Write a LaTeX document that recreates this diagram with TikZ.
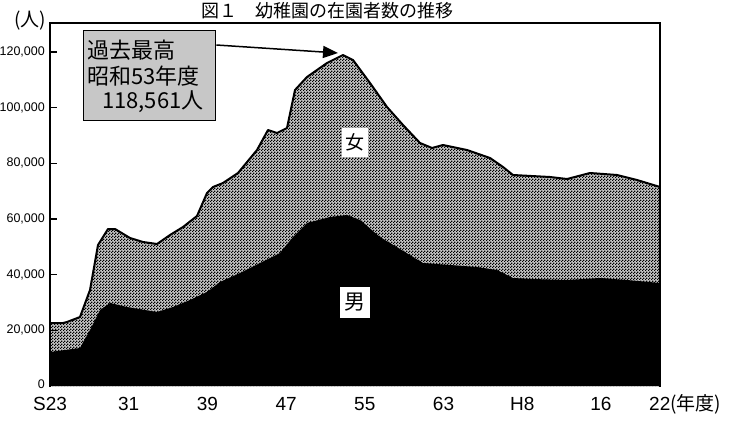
\documentclass[tikz,border=0pt]{standalone}
\usepackage{fontspec}
\setmainfont{Liberation Sans}
\newfontfamily\jp{Noto Sans CJK JP}
\usetikzlibrary{arrows.meta,patterns,calc}
\pgfdeclarepatternformonly{jpdots}{\pgfqpoint{0pt}{0pt}}{\pgfqpoint{3pt}{3pt}}{\pgfqpoint{3pt}{3pt}}{%
  \pgfpathrectangle{\pgfqpoint{0pt}{0pt}}{\pgfqpoint{1.5pt}{1.5pt}}%
  \pgfpathrectangle{\pgfqpoint{1.5pt}{1.5pt}}{\pgfqpoint{1.5pt}{1.5pt}}%
  \pgfusepath{fill}}
\begin{document}
\begin{tikzpicture}[x=1pt,y=-1pt,
  axlab/.style={font=\fontsize{19}{21}\selectfont, inner sep=0pt},
  ylab/.style={font=\fontsize{12.5}{14}\selectfont, inner sep=0pt, anchor=east},
  jplab/.style={font=\jp\fontsize{22}{24}\selectfont, inner sep=0pt},
  callbox/.style={draw=black, line width=1.4pt, fill=black!22, pattern color=black, inner sep=0pt},
  sexbox/.style={fill=white, inner sep=0pt, font=\jp\fontsize{19}{21}\selectfont},
  callarrow/.style={line width=1.5pt, -{Triangle[length=15pt,width=12pt]}}]
\useasboundingbox (0,0) rectangle (735,423);
\fill[white] (0,0) rectangle (735,423);
% title
\node[anchor=base, font=\jp\fontsize{18}{20}\selectfont, inner sep=0pt] (title) at (327,17) {図１　幼稚園の在園者数の推移};
% female (total) area
\fill[black!22] (50,386) -- (50,323) -- (63,323) -- (67,322) -- (80,317) -- (90,290) -- (98,245) -- (108,229) -- (115,229) -- (130,238) -- (143,242) -- (157,244) -- (170,235) -- (183,227) -- (197,216) -- (207,193) -- (213,187) -- (223,183) -- (238,173) -- (257,150) -- (268,130) -- (277,133) -- (287,128) -- (295,90) -- (307,77) -- (327,63) -- (343,55) -- (353,60) -- (370,83) -- (387,107) -- (403,125) -- (420,143) -- (432,148) -- (443,145) -- (467,150) -- (490,158) -- (503,167) -- (513,175) -- (550,177) -- (567,179) -- (590,173) -- (617,175) -- (637,180) -- (660,187) -- (660,386) -- cycle;
\fill[pattern=jpdots] (50,386) -- (50,323) -- (63,323) -- (67,322) -- (80,317) -- (90,290) -- (98,245) -- (108,229) -- (115,229) -- (130,238) -- (143,242) -- (157,244) -- (170,235) -- (183,227) -- (197,216) -- (207,193) -- (213,187) -- (223,183) -- (238,173) -- (257,150) -- (268,130) -- (277,133) -- (287,128) -- (295,90) -- (307,77) -- (327,63) -- (343,55) -- (353,60) -- (370,83) -- (387,107) -- (403,125) -- (420,143) -- (432,148) -- (443,145) -- (467,150) -- (490,158) -- (503,167) -- (513,175) -- (550,177) -- (567,179) -- (590,173) -- (617,175) -- (637,180) -- (660,187) -- (660,386) -- cycle;
% male area
\fill[black] (50,386) -- (50,352) -- (80,348) -- (90,330) -- (100,310) -- (110,303) -- (127,307) -- (157,312) -- (173,307) -- (190,300) -- (207,292) -- (220,282) -- (240,273) -- (260,263) -- (280,253) -- (293,237) -- (307,223) -- (330,217) -- (347,215) -- (360,220) -- (380,237) -- (400,249) -- (423,263) -- (450,265) -- (477,267) -- (497,270) -- (513,278) -- (533,279) -- (567,280) -- (600,278) -- (627,280) -- (660,283) -- (660,386) -- cycle;
% total curve outline
\draw[line width=2pt, line join=round] (50,323) -- (63,323) -- (67,322) -- (80,317) -- (90,290) -- (98,245) -- (108,229) -- (115,229) -- (130,238) -- (143,242) -- (157,244) -- (170,235) -- (183,227) -- (197,216) -- (207,193) -- (213,187) -- (223,183) -- (238,173) -- (257,150) -- (268,130) -- (277,133) -- (287,128) -- (295,90) -- (307,77) -- (327,63) -- (343,55) -- (353,60) -- (370,83) -- (387,107) -- (403,125) -- (420,143) -- (432,148) -- (443,145) -- (467,150) -- (490,158) -- (503,167) -- (513,175) -- (550,177) -- (567,179) -- (590,173) -- (617,175) -- (637,180) -- (660,187);
% frame
\draw[line width=1.6pt] (50,387) -- (50,23);
\draw[line width=2.4pt] (49,23) -- (660,23) -- (660,387);
% y ticks and labels
\foreach \v/\lab in {1/{20,000},2/{40,000},3/{60,000},4/{80,000},5/{100,000},6/{120,000}}{
  \draw[line width=1.4pt] (50,{386-\v*55.7}) -- (57,{386-\v*55.7});
  \node[ylab] (yl\v) at (45,{386-\v*55.7}) {\lab};
}
\node[ylab] (yl0) at (45,384) {0};
\node[jplab, font=\jp\fontsize{19}{21}\selectfont] (unit) at (30,21) {(人)};
% x labels
\foreach \i/\lab in {0/S23,1/31,2/39,3/47,4/55,5/63,6/H8,7/16}{
  \node[axlab] (xl\i) at ({50+\i*78.7},404) {\lab};
}
\node[axlab, anchor=west] (xl8) at (649,404) {22{\jp(年度)}};
% callout
\node[callbox, minimum width=132pt, minimum height=90pt, anchor=north west] (callout) at (83,30) {};
\node[jplab, anchor=west] (c1) at (87,50) {過去最高};
\node[jplab, anchor=west] (c2) at (87,76) {昭和53年度};
\node[jplab, anchor=west] (c3) at (102,102) {118,561人};
\coordinate (peak) at (338,53);
\draw[callarrow] ($(callout.north east)+(0,15)$) -- (peak);
% sex labels
\node[sexbox, minimum width=26pt, minimum height=29pt] (female) at (355,142) {女};
\node[sexbox, minimum width=30pt, minimum height=31pt, font=\jp\fontsize{21}{23}\selectfont] (male) at (355,302) {男};
\end{tikzpicture}
\end{document}
